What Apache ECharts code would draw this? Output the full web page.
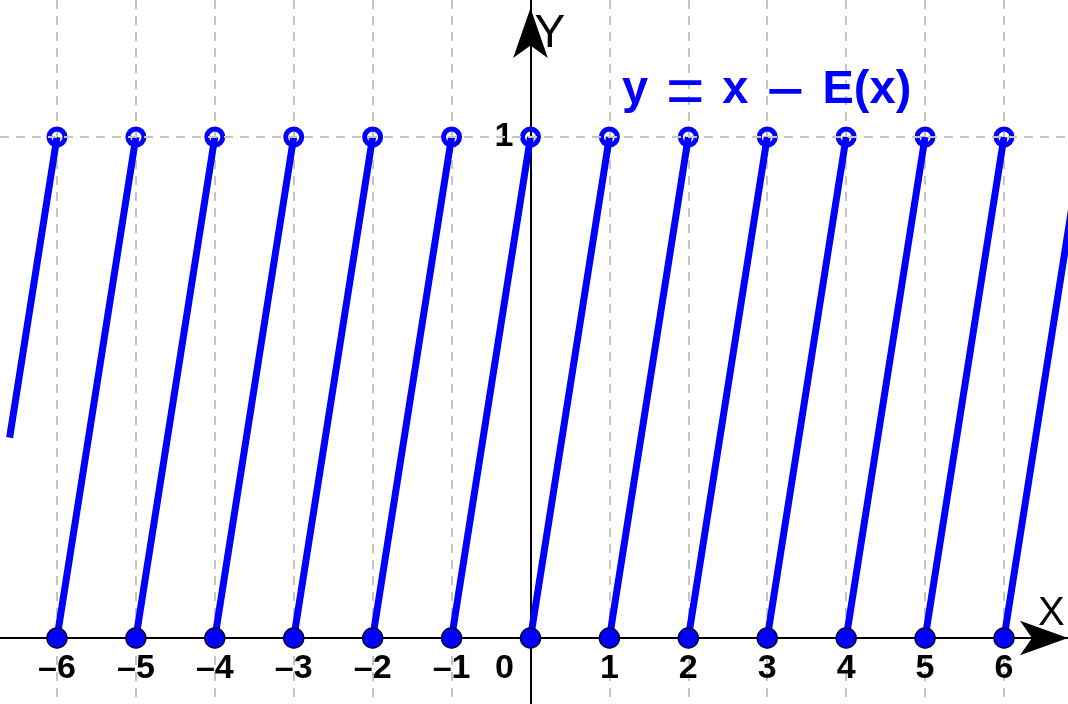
<!DOCTYPE html>
<html>
<head>
<meta charset="utf-8">
<script src="https://cdn.jsdelivr.net/npm/echarts@6/dist/echarts.min.js"></script>
<style>
  html, body { margin: 0; padding: 0; background: #fff; }
  #chart { width: 1068px; height: 704px; }
</style>
</head>
<body>
<div id="chart"></div>
<script>
// integer ticks on the x axis
var xTicks = [-6, -5, -4, -3, -2, -1, 0, 1, 2, 3, 4, 5, 6];
// branches of y = x - E(x): start and end of every piece
var segStartX = [-6.6, -6, -5, -4, -3, -2, -1, 0, 1, 2, 3, 4, 5, 6];
var segStartY = [0.4, 0, 0, 0, 0, 0, 0, 0, 0, 0, 0, 0, 0, 0];
var segEndX = [-6, -5, -4, -3, -2, -1, 0, 1, 2, 3, 4, 5, 6, 7];
var segEndY = [1, 1, 1, 1, 1, 1, 1, 1, 1, 1, 1, 1, 1, 1];
// closed dots (x, 0) and open dots (x, 1)
var closedX = [-6, -5, -4, -3, -2, -1, 0, 1, 2, 3, 4, 5, 6];
var openX = [-6, -5, -4, -3, -2, -1, 0, 1, 2, 3, 4, 5, 6];

var xMin = -6.722, xMax = 6.811;
var yMin = -0.1317, yMax = 1.2735;
var W = 1068, H = 704;

var font = 'Liberation Sans, Arial, sans-serif';
var blue = '#0000ff';
var gridColor = '#c4c4c4';

var lineData = [];
segStartX.forEach(function (x0, i) {
    lineData.push([x0, segStartY[i]]);
    lineData.push([segEndX[i], segEndY[i]]);
    lineData.push([segEndX[i], '-']);
});

// move the axes from the grid border to the origin
var xAxisOffset = -(0 - yMin) / (yMax - yMin) * H;
var yAxisOffset = -(0 - xMin) / (xMax - xMin) * W;

var chart = echarts.init(document.getElementById('chart'));
chart.setOption({
    animation: false,
    title: {
        text: '{b|y}{g| }{o|=}{g| }{b|x}{g| }{o|\u2212}{g| }{b|E(x)}',
        left: 622,
        top: 60,
        padding: 0,
        textStyle: {
            rich: {
                b: { color: blue, fontSize: 47, fontWeight: 'bold', fontFamily: font, lineHeight: 60, verticalAlign: 'middle' },
                o: { color: blue, fontSize: 66, fontWeight: 'normal', fontFamily: font, lineHeight: 60, verticalAlign: 'middle', padding: [10, 0, 0, 0] },
                g: { fontSize: 64, fontFamily: font, lineHeight: 60 }
            }
        }
    },
    grid: { left: 0, right: 0, top: 0, bottom: 0, containLabel: false, outerBoundsMode: 'none' },
    xAxis: {
        type: 'value',
        min: xMin,
        max: xMax,
        position: 'bottom',
        offset: xAxisOffset,
        name: 'X',
        nameLocation: 'end',
        nameGap: -30,
        nameTextStyle: { fontSize: 40, fontFamily: font, color: '#000', verticalAlign: 'bottom', padding: [0, 0, 4, 0] },
        axisLine: {
            onZero: false,
            lineStyle: { color: '#000', width: 2 },
            symbol: ['none', 'arrow'],
            symbolSize: [26, 48]
        },
        axisTick: { show: false, customValues: xTicks },
        axisLabel: {
            customValues: xTicks,
            margin: 14,
            color: '#000',
            fontSize: 34,
            fontWeight: 'bold',
            fontFamily: font,
            formatter: function (v) {
                if (v === 0) return '{z|0}';
                return v < 0 ? '\u2013' + (-v) : '' + v;
            },
            rich: {
                z: { fontSize: 34, fontWeight: 'bold', fontFamily: font, color: '#000', padding: [0, 52, 0, 0] }
            }
        },
        splitLine: {
            show: true,
            lineStyle: { color: gridColor, width: 2, type: [9, 7] }
        }
    },
    yAxis: {
        type: 'value',
        min: yMin,
        max: yMax,
        position: 'left',
        offset: yAxisOffset,
        name: 'Y',
        nameLocation: 'end',
        nameGap: -57,
        nameTextStyle: { fontSize: 46, fontFamily: font, color: '#000', align: 'left', padding: [0, 0, 0, 4] },
        axisLine: {
            onZero: false,
            lineStyle: { color: '#000', width: 2 },
            symbol: ['none', 'arrow'],
            symbolSize: [26, 50],
            symbolOffset: [0, -8]
        },
        axisTick: { show: false },
        axisLabel: {
            customValues: [1],
            margin: 17,
            color: '#000',
            fontSize: 34,
            fontWeight: 'bold',
            fontFamily: font,
            padding: [10, 0, 0, 0]
        },
        splitLine: { show: false }
    },
    series: [
        {
            type: 'line',
            data: lineData,
            symbol: 'none',
            lineStyle: { color: blue, width: 7 },
            markLine: {
                silent: true,
                symbol: 'none',
                label: { show: false },
                lineStyle: { color: gridColor, width: 2, type: [9, 7] },
                data: [{ yAxis: 1 }]
            },
            z: 2
        },
        {
            type: 'scatter',
            data: closedX.map(function (x) { return [x, 0]; }),
            symbolSize: 20,
            itemStyle: { color: blue, borderColor: '#000033', borderWidth: 1.5, opacity: 1 },
            z: 4
        },
        {
            type: 'scatter',
            data: openX.map(function (x) { return [x, 1]; }),
            symbolSize: 16,
            itemStyle: { color: 'rgba(0,0,0,0)', borderColor: blue, borderWidth: 5, opacity: 1 },
            z: 4
        }
    ]
});
</script>
</body>
</html>
